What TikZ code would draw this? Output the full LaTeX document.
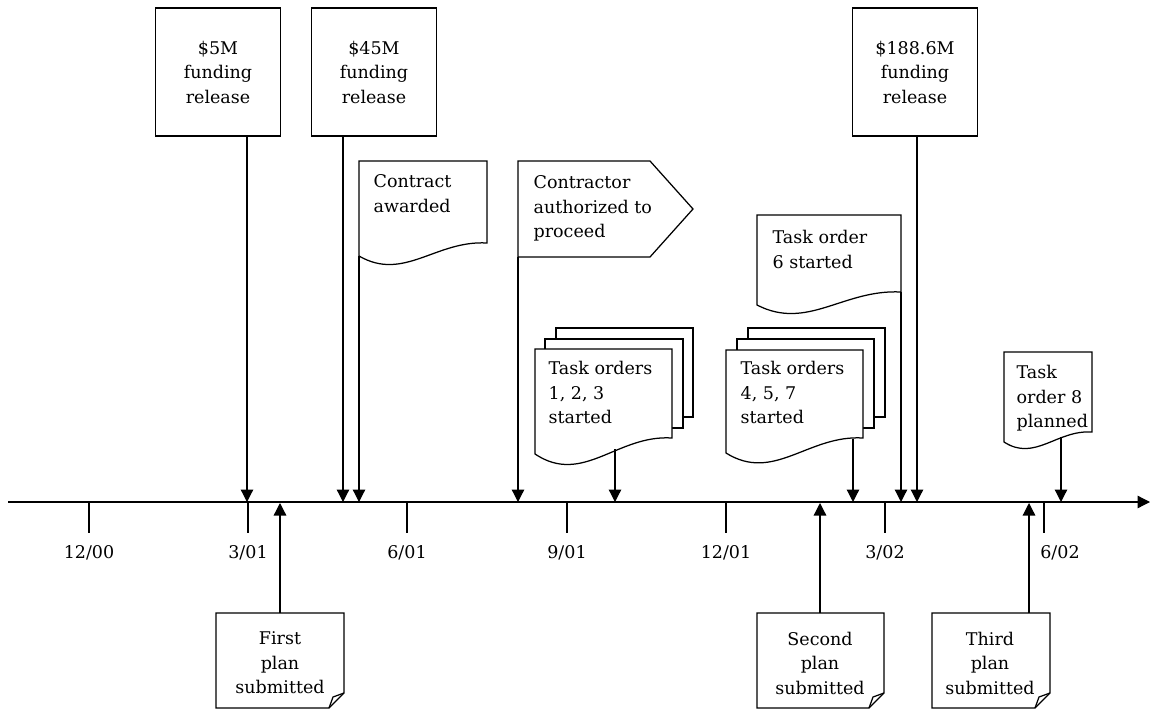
\documentclass[tikz,border=0pt]{standalone}
\usepackage{fontspec}
\setmainfont{DejaVu Serif}
\usetikzlibrary{arrows.meta}

% sheet with a wavy lower edge: left, right, top, right bottom, drop
\newcommand{\docpage}[5]{%
  \draw[fill=white] (#2,#4) -- (#2,#3) -- (#1,#3) -- (#1,#4+#5)
    .. controls ({#1+0.35*(#2-#1)},{#4+3*#5}) and ({#1+0.6*(#2-#1)},{#4-0.23*#5}) .. (#2,#4) -- cycle;}
% sheet with a turned corner: left, right, top, bottom
\newcommand{\notepage}[4]{%
  \draw[fill=white] (#1,#3) -- (#2,#3) -- (#2,#4-15) -- (#2-15,#4) -- (#1,#4) -- cycle;
  \draw (#2,#4-15) -- (#2-11,#4-11) -- (#2-15,#4);}

\begin{document}
\begin{tikzpicture}[x=0.6pt,y=-0.6pt,line width=0.75pt,
  arr/.style={-{Triangle[length=7.5pt,width=7.5pt]}},
  txt/.style={font=\fontsize{10.5}{14.7}\selectfont,inner sep=0pt},
  fundbox/.style={draw,txt,align=center,minimum width=75pt,minimum height=76.8pt},
  doctext/.style={txt,align=left,anchor=north west},
  notetext/.style={txt,align=center}]
  \useasboundingbox (0,0) rectangle (1150,711);

  % time line
  \draw[arr] (8,502) -- (1150,502);
  \foreach \x/\lx/\m/\yr in {89/89/12/00,248/248/3/01,407/407/6/01,567/567/9/01,
                             726/726/12/01,885/885/3/02,1044/1060/6/02}{
    \draw (\x,502) -- (\x,533);
    \node[txt] (d\m\yr) at (\lx,553) {\m/\yr};
  }

  % funding releases
  \node[fundbox] (f5m) at (218,72) {\$5M\\funding\\release};
  \node[fundbox] (f45m) at (374,72) {\$45M\\funding\\release};
  \node[fundbox] (f188m) at (915,72) {\$188.6M\\funding\\release};
  \coordinate (a5m) at (247,502);
  \coordinate (a45m) at (343,502);
  \coordinate (a188m) at (917,502);
  \draw[arr] (f5m.south -| a5m) -- (a5m);
  \draw[arr] (f45m.south -| a45m) -- (a45m);
  \draw[arr] (f188m.south -| a188m) -- (a188m);

  % contract
  \docpage{359}{487}{161}{243}{13}
  \node[doctext] (award) at (373,174) {Contract\\awarded};
  \coordinate (s1) at (359,256);
  \coordinate (e1) at (359,502);
  \draw[arr] (s1) -- (e1);

  \draw[fill=white] (518,161) -- (650,161) -- (693,209) -- (650,257) -- (518,257) -- cycle;
  \node[doctext] (proceed) at (533,175) {Contractor\\authorized to\\proceed};
  \coordinate (s2) at (518,257);
  \coordinate (e2) at (518,502);
  \draw[arr] (s2) -- (e2);

  % task orders
  \draw[fill=white] (556,328) rectangle (693,417);
  \draw[fill=white] (545,339) rectangle (683,428);
  \docpage{535}{672}{349}{438}{16}
  \node[doctext] (to123) at (548,361) {Task orders\\1, 2, 3\\started};
  \coordinate (s3) at (615,449);
  \coordinate (e3) at (615,502);
  \draw[arr] (s3) -- (e3);

  \draw[fill=white] (748,328) rectangle (885,417);
  \draw[fill=white] (737,339) rectangle (874,428);
  \docpage{726}{863}{350}{438}{15}
  \node[doctext] (to457) at (740,361) {Task orders\\4, 5, 7\\started};
  \coordinate (s4) at (853,439);
  \coordinate (e4) at (853,502);
  \draw[arr] (s4) -- (e4);

  \docpage{757}{901}{215}{292}{13}
  \node[doctext] (to6) at (772,230) {Task order\\6 started};
  \coordinate (s5) at (901,292);
  \coordinate (e5) at (901,502);
  \draw[arr] (s5) -- (e5);

  \docpage{1004}{1092}{352}{432}{10}
  \node[doctext] (to8) at (1016,365) {Task\\order 8\\planned};
  \coordinate (s6) at (1061,437);
  \coordinate (e6) at (1061,502);
  \draw[arr] (s6) -- (e6);

  % plans
  \notepage{216}{344}{613}{708}
  \node[notetext] (plan1) at (280,663) {First\\plan\\submitted};
  \coordinate (p1) at (280,613);
  \coordinate (q1) at (280,503);
  \draw[arr] (p1) -- (q1);

  \notepage{757}{884}{613}{708}
  \node[notetext] (plan2) at (820,663) {Second\\plan\\submitted};
  \coordinate (p2) at (820,613);
  \coordinate (q2) at (820,503);
  \draw[arr] (p2) -- (q2);

  \notepage{932}{1050}{613}{708}
  \node[notetext] (plan3) at (990,663) {Third\\plan\\submitted};
  \coordinate (p3) at (1029,613);
  \coordinate (q3) at (1029,503);
  \draw[arr] (p3) -- (q3);
\end{tikzpicture}
\end{document}
